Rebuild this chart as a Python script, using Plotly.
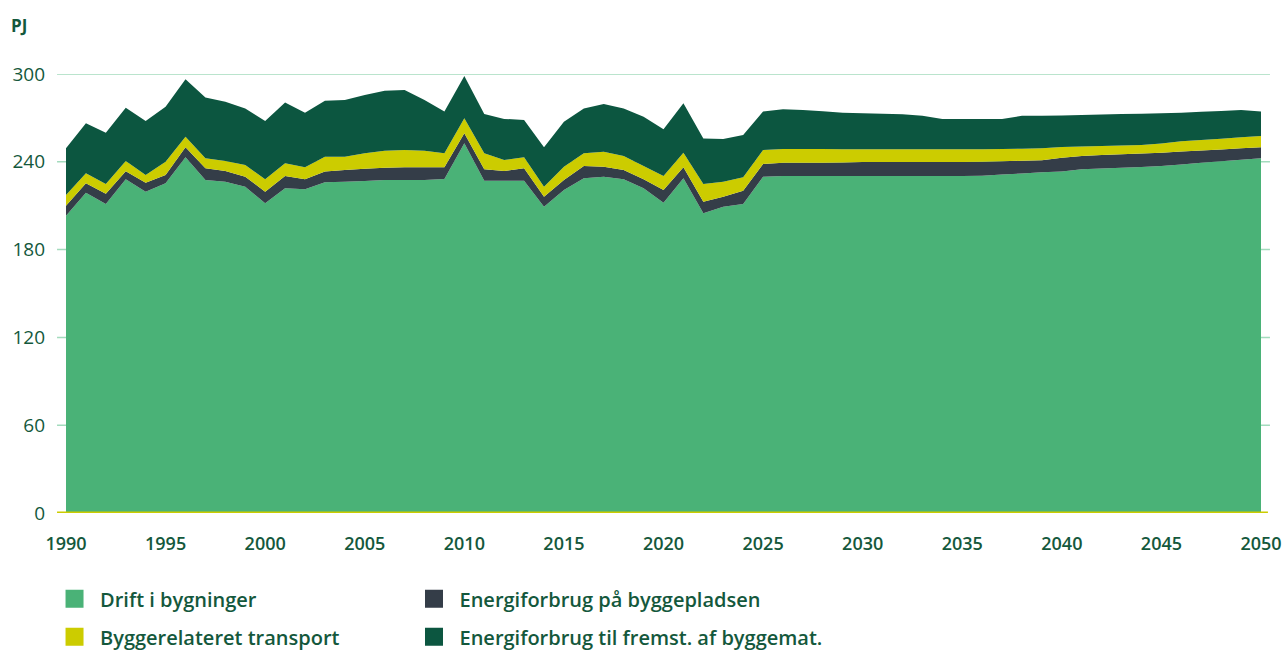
import plotly.graph_objects as go

years = list(range(1990, 2051))

drift_i_bygninger = [
    203.2, 218.9, 211.2, 228.0, 219.6, 225.3, 243.1, 227.6, 226.4, 223.0,
    211.6, 221.9, 221.2, 226.0, 226.4, 226.9, 227.6, 227.6, 227.6, 228.3,
    252.6, 227.1, 227.1, 227.1, 209.3, 220.7, 228.7, 229.8, 228.0, 221.9,
    212.0, 228.7, 204.8, 209.3, 211.2, 229.8, 230.3, 230.3, 230.3, 230.3,
    230.3, 230.3, 230.3, 230.3, 230.3, 230.3, 230.5, 231.3, 232.0, 232.8,
    233.3, 234.9, 235.4, 235.9, 236.4, 237.2, 238.2, 239.3, 240.3, 241.4,
    242.4,
]
energi_byggepladsen = [
    6.8, 6.4, 7.0, 5.5, 6.1, 5.7, 6.8, 8.0, 7.3, 6.8,
    8.0, 8.4, 6.8, 7.3, 8.0, 8.4, 8.4, 8.6, 8.6, 7.9,
    6.9, 7.8, 6.6, 8.5, 6.9, 6.9, 8.4, 6.9, 6.4, 6.1,
    8.7, 7.5, 7.9, 6.9, 9.1, 8.7, 9.1, 9.1, 9.1, 9.3,
    9.6, 9.6, 9.6, 9.6, 9.6, 9.6, 9.5, 9.1, 8.7, 8.2,
    9.5, 9.1, 9.2, 9.2, 9.2, 9.0, 8.8, 8.4, 8.1, 7.8,
    7.5,
]
byggerelateret_transport = [
    7.3, 6.8, 6.6, 7.1, 5.3, 9.1, 7.3, 6.8, 6.9, 8.0,
    8.4, 8.7, 8.2, 10.2, 9.1, 10.5, 11.6, 11.9, 11.4, 9.6,
    10.2, 10.9, 7.5, 7.5, 6.8, 9.1, 8.7, 10.2, 9.6, 9.1,
    9.6, 10.0, 12.1, 10.2, 9.1, 9.6, 9.3, 9.3, 9.3, 9.0,
    8.6, 8.6, 8.6, 8.6, 8.6, 8.7, 8.6, 8.4, 8.3, 8.2,
    7.3, 6.5, 6.2, 6.0, 5.8, 6.3, 7.1, 7.2, 7.4, 7.5,
    7.7,
]
energi_byggemat = [
    31.9, 34.2, 35.1, 36.4, 36.9, 37.6, 39.2, 41.6, 40.4, 38.7,
    39.9, 41.6, 37.4, 38.3, 38.7, 39.8, 41.0, 40.9, 34.6, 28.5,
    28.9, 26.9, 28.1, 25.5, 26.9, 30.7, 30.7, 32.6, 32.5, 33.7,
    31.9, 33.8, 31.2, 29.2, 28.9, 26.2, 27.2, 26.7, 25.8, 25.0,
    24.6, 24.3, 24.0, 23.0, 20.8, 20.6, 20.6, 20.5, 22.4, 22.3,
    21.6, 21.5, 21.5, 21.5, 21.5, 20.6, 19.5, 19.3, 19.0, 18.7,
    16.7,
]

series = [
    ("Drift i bygninger", drift_i_bygninger, "#4ab277", "legend"),
    ("Energiforbrug på byggepladsen", energi_byggepladsen, "#343d48", "legend2"),
    ("Byggerelateret transport", byggerelateret_transport, "#cccc00", "legend"),
    ("Energiforbrug til fremst. af byggemat.", energi_byggemat, "#0c5640", "legend2"),
]

x_ticks = [1990, 1995, 2000, 2005, 2010, 2015, 2020, 2025, 2030, 2035, 2040, 2045, 2050]
y_ticks = [0, 60, 120, 180, 240, 300]

TEXT = "#14583c"
FONT = "Open Sans"

fig = go.Figure()
for name, vals, color, _ in series:
    fig.add_trace(go.Scatter(
        x=years, y=vals, name=name, stackgroup="one", mode="none",
        fillcolor=color, line=dict(width=0), showlegend=False,
        hovertemplate="%{x}: %{y} PJ<extra>" + name + "</extra>",
    ))

# legend entries (two columns)
for i, (name, vals, color, lg) in enumerate(series):
    fig.add_trace(go.Scatter(
        x=[None], y=[None], name=name, mode="markers",
        marker=dict(symbol="square", size=16, color=color,
                    line=dict(color=color, width=2)),
        legend=lg, legendgroup=f"g{i}", showlegend=True, hoverinfo="skip",
    ))

shapes = []
for v in y_ticks[1:]:
    shapes.append(dict(type="line", xref="paper", yref="y", x0=-0.0075, x1=1.0075,
                       y0=v, y1=v, line=dict(color="#a3dbbd", width=1.5), layer="below"))
shapes.append(dict(type="line", xref="paper", yref="y", x0=-0.0075, x1=1.0058,
                   y0=0, y1=0, line=dict(color="#cccc00", width=3), layer="above"))

legend_common = dict(
    orientation="v", yanchor="top", xanchor="left",
    font=dict(family=FONT, size=20, color=TEXT, weight=600),
    bgcolor="rgba(0,0,0,0)", borderwidth=0, tracegroupgap=9,
    traceorder="grouped", itemsizing="trace", itemwidth=41,
)

fig.update_layout(
    width=1286, height=652,
    margin=dict(l=66, r=25, t=74, b=139, autoexpand=False),
    paper_bgcolor="white", plot_bgcolor="white",
    shapes=shapes,
    xaxis=dict(
        range=[1990, 2050], tickmode="array", tickvals=x_ticks,
        ticktext=[str(t) for t in x_ticks], showgrid=False, zeroline=False,
        showline=False, ticks="", ticklabelstandoff=18, automargin=False,
        tickfont=dict(family=FONT, size=18, color=TEXT, weight=600),
    ),
    yaxis=dict(
        range=[0, 300], tickmode="array", tickvals=y_ticks,
        ticktext=[str(t) for t in y_ticks], showgrid=False, zeroline=False,
        showline=False, ticks="", ticklabelstandoff=20, automargin=False,
        tickfont=dict(family=FONT, size=19, color=TEXT, weight=500),
    ),
    legend=dict(x=-0.0142, y=-0.151, **legend_common),
    legend2=dict(x=0.2866, y=-0.151, **legend_common),
    annotations=[dict(
        text="PJ", xref="paper", yref="paper", x=-0.048, y=1.1116,
        xanchor="left", yanchor="middle", showarrow=False,
        font=dict(family=FONT, size=17, color=TEXT, weight=700),
    )],
    hovermode="x unified",
)

fig.write_html(
    "out.html",
    config={"displayModeBar": False},
    post_script="document.body.style.margin='0px';document.documentElement.style.overflow='hidden';",
)
